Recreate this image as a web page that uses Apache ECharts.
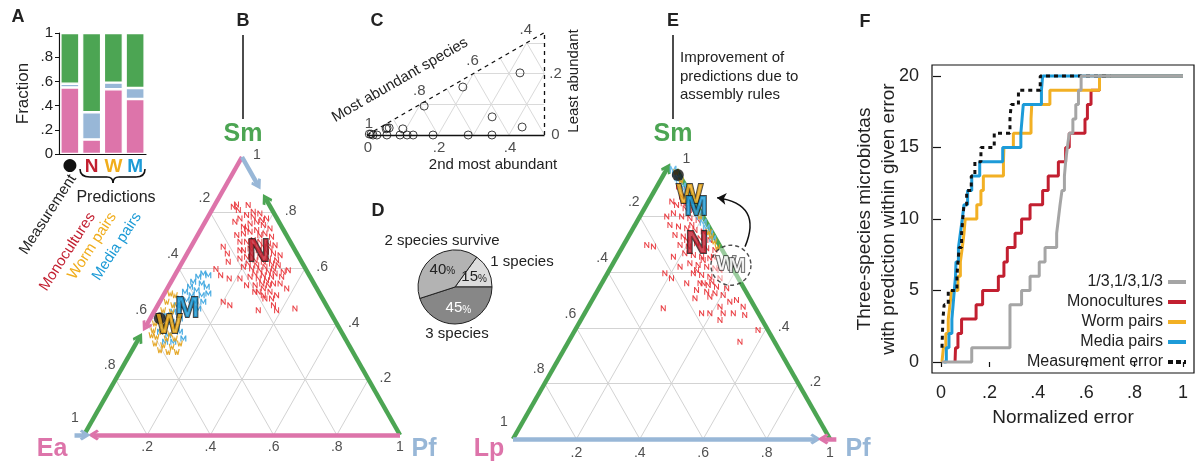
<!DOCTYPE html>
<html><head><meta charset="utf-8">
<script src="https://cdn.jsdelivr.net/npm/echarts@6/dist/echarts.min.js"></script>
<style>html,body{margin:0;padding:0;background:#fff}#c{width:1198px;height:463px}</style>
</head><body><div id="c"></div>
<script>
// ================= DATA =================
// Panel A: fractions (Ea, Pf, Sm)
const barCategories = ['Measurement', 'Monocultures', 'Worm pairs', 'Media pairs'];
const barEa = [0.55, 0.12, 0.535, 0.455];
const barPf = [0.03, 0.225, 0.055, 0.09];
const barSm = [0.42, 0.655, 0.41, 0.455];
const fractionTicks = [0, 0.2, 0.4, 0.6, 0.8, 1];
const ternTicks = [0.2, 0.4, 0.6, 0.8];

// Panel B clouds: [Pf, Sm] (Ea = 1 - Pf - Sm)
const bCloudN = [[0.062,0.821],[0.084,0.809],[0.106,0.827],[0.068,0.829],[0.102,0.677],[0.127,0.653],[0.145,0.623],[0.119,0.597],[0.145,0.575],[0.178,0.563],[0.201,0.479],[0.228,0.467],[0.327,0.449],[0.245,0.539],[0.283,0.515],[0.316,0.503],[0.366,0.467],[0.385,0.449],[0.44,0.455],[0.378,0.527],[0.337,0.587],[0.35,0.593],[0.348,0.545],[0.212,0.563],
[0.104,0.779],[0.119,0.791],[0.134,0.803],[0.158,0.797],[0.188,0.779],[0.13,0.749],[0.145,0.761],[0.163,0.767],[0.19,0.755],[0.217,0.743],[0.124,0.719],[0.142,0.725],[0.16,0.731],[0.178,0.737],[0.21,0.725],[0.237,0.713],[0.146,0.695],[0.167,0.695],[0.185,0.701],[0.209,0.695],[0.239,0.689],[0.263,0.683],[0.172,0.665],[0.19,0.671],[0.219,0.665],[0.248,0.659],[0.273,0.653],[0.297,0.647],[0.176,0.635],[0.194,0.641],[0.227,0.629],[0.256,0.623],[0.285,0.617],[0.309,0.611],[0.202,0.605],[0.231,0.599],[0.26,0.593],[0.29,0.587],[0.314,0.581],[0.241,0.569],[0.27,0.563],[0.299,0.557],[0.327,0.545],[0.272,0.539],[0.304,0.527],[0.331,0.515],[0.358,0.503],[0.327,0.491],
[0.143,0.785],[0.143,0.743],[0.197,0.719],[0.194,0.683],[0.229,0.677],[0.253,0.671],[0.207,0.647],[0.236,0.641],[0.266,0.635],[0.295,0.629],[0.211,0.617],[0.241,0.611],[0.27,0.605],[0.3,0.599],[0.25,0.581],[0.28,0.575],[0.309,0.569],[0.29,0.545],[0.314,0.539],[0.294,0.515],[0.348,0.491],[0.341,0.569],[0.094,0.767],[0.176,0.773],[0.161,0.665]];
const bCloudM = [[0.087,0.581],[0.106,0.575],[0.077,0.569],[0.07,0.551],[0.1,0.545],[0.122,0.533],[0.069,0.533],[0.096,0.521],[0.062,0.515],[0.089,0.503],[0.121,0.503],[0.139,0.509],[0.058,0.491],[0.082,0.485],[0.112,0.479],[0.06,0.467],[0.087,0.455],[0.061,0.443],[0.046,0.431],[0.094,0.419],[0.074,0.407],[0.056,0.389],[0.102,0.383],[0.055,0.371],[0.087,0.359],[0.118,0.371],[0.115,0.335],[0.141,0.347],[0.089,0.335],[0.138,0.479],[0.134,0.455]];
const bCloudW = [[0.018,0.509],[0.036,0.503],[0.022,0.479],[0.049,0.467],[0.026,0.449],[0.056,0.443],[0.023,0.425],[0.057,0.419],[0.024,0.401],[0.059,0.395],[0.088,0.389],[0.031,0.377],[0.06,0.371],[0.09,0.365],[0.053,0.353],[0.088,0.347],[0.114,0.347],[0.06,0.329],[0.089,0.323],[0.119,0.317],[0.088,0.305],[0.117,0.299],[0.139,0.329],[0.034,0.359],[0.144,0.299]];

// Panel C: [2nd most abundant, least abundant]
const cPoints = [[0.005,0.003],[0.01,0.003],[0.017,0],[0.028,0],[0.045,0.023],[0.051,0.023],[0.044,0.02],[0.056,0],[0.091,0.02],[0.093,0],[0.113,0],[0.13,0],[0.186,0],[0.285,0],[0.352,0],[0.323,0.059],[0.424,0.026],[0.33,0.202],[0.192,0.156],[0.114,0.094]];
const cBottomTicks = [0, 0.2, 0.4];
const cMostTicks = [1, 0.8, 0.6, 0.4];
const cLeastTicks = [0, 0.2];

// Panel D
const pieNames = ['1 species', '3 species', '2 species survive'];
const pieShares = [15, 45, 40];

// Panel E clouds: [Pf, Sm] (Lp = 1 - Pf - Sm)
const eCloudN = [[0.074,0.854],[0.085,0.80],[0.073,0.698],[0.097,0.692],[0.181,0.596],[0.211,0.578],[0.239,0.47],[0.369,0.452],[0.395,0.452],[0.415,0.476],[0.437,0.494],[0.455,0.5],[0.488,0.476],[0.508,0.446],[0.469,0.452],[0.437,0.452],[0.577,0.392],[0.541,0.35],[0.321,0.506],[0.365,0.512],[0.439,0.428],[0.32,0.56],
[0.068,0.908],[0.1,0.896],[0.096,0.872],[0.128,0.86],[0.095,0.842],[0.128,0.83],[0.157,0.824],[0.1,0.812],[0.132,0.8],[0.161,0.794],[0.19,0.788],[0.11,0.77],[0.14,0.764],[0.169,0.758],[0.198,0.752],[0.227,0.746],[0.144,0.734],[0.173,0.728],[0.229,0.722],[0.263,0.716],[0.178,0.698],[0.207,0.692],[0.268,0.686],[0.297,0.68],[0.208,0.668],[0.238,0.662],[0.267,0.656],[0.296,0.65],[0.242,0.632],[0.271,0.626],[0.301,0.62],[0.33,0.614],[0.271,0.596],[0.3,0.59],[0.329,0.584],[0.364,0.578],[0.31,0.56],[0.339,0.554],[0.368,0.548],[0.403,0.542],[0.346,0.53],[0.375,0.524],[0.404,0.518],[0.311,0.536],[0.268,0.56],[0.217,0.62],[0.178,0.656],[0.304,0.656],[0.113,0.848],[0.227,0.704],[0.278,0.644],[0.349,0.608],[0.275,0.608],[0.19,0.716],[0.179,0.77],[0.344,0.566]];
const eCloudM = [[0.02,0.97],[0.035,0.955],[0.05,0.94],[0.06,0.93],[0.08,0.91],[0.09,0.9],[0.11,0.88],[0.13,0.86],[0.14,0.85],[0.16,0.83],[0.18,0.81],[0.19,0.8],[0.21,0.78],[0.23,0.76],[0.25,0.74],[0.27,0.72]];
const eCloudW = [[0.035,0.96],[0.065,0.93],[0.17,0.82],[0.19,0.8],[0.245,0.745],[0.26,0.73],[0.28,0.71],[0.3,0.69]];
const eMeasured = [0.045, 0.95];
const eMeanN = [0.23, 0.70];
const eMeanW = [0.12, 0.875];
const eMeanM = [0.16, 0.835];
const eNoRules = [0.375, 0.625];
const eArrowFrom = [0.386, 0.692];
const eArrowTo = [0.21, 0.868];

// Panel F: [normalized error, count]
const fNames = ['1/3,1/3,1/3', 'Monocultures', 'Worm pairs', 'Media pairs', 'Measurement error'];
const fGray = [[0.003,0],[0.127,1],[0.285,4],[0.333,5],[0.368,6],[0.406,7],[0.43,8],[0.478,9],[0.485,10],[0.492,11],[0.5,12],[0.51,13],[0.515,14],[0.522,15],[0.53,16],[0.545,17],[0.557,18],[0.568,19],[0.579,20],[1,20]];
const fRed = [[0.058,0],[0.06,1],[0.07,2],[0.085,3],[0.145,4],[0.172,5],[0.237,6],[0.26,7],[0.274,8],[0.306,9],[0.333,10],[0.368,11],[0.42,12],[0.443,13],[0.485,14],[0.515,15],[0.53,16],[0.595,17],[0.605,18],[0.62,19],[0.655,20],[1,20]];
const fOrange = [[0.004,0],[0.01,1],[0.02,2],[0.03,3],[0.037,4],[0.044,5],[0.07,6],[0.08,7],[0.088,8],[0.095,9],[0.1,10],[0.148,11],[0.165,12],[0.175,13],[0.258,14],[0.26,15],[0.299,16],[0.372,17],[0.375,18],[0.45,19],[0.655,20],[1,20]];
const fBlue = [[0.012,0],[0.022,1],[0.033,2],[0.045,3],[0.05,4],[0.055,5],[0.06,6],[0.062,7],[0.072,8],[0.08,9],[0.088,10],[0.095,11],[0.11,12],[0.127,13],[0.16,14],[0.255,15],[0.33,16],[0.335,17],[0.34,18],[0.415,19],[0.42,20],[1,20]];
const fBlack = [[0.004,1],[0.008,3],[0.013,4],[0.03,5],[0.066,6],[0.07,7],[0.075,8],[0.085,9],[0.09,10],[0.095,11],[0.106,12],[0.125,13],[0.14,14],[0.165,15],[0.22,16],[0.285,17],[0.29,18],[0.32,19],[0.41,20],[0.7,20]];
const fXTicks = [0, 0.2, 0.4, 0.6, 0.8, 1];
const fYTicks = [0, 5, 10, 15, 20];

// ================= STYLE / HELPERS =================
const FONT = '"Liberation Sans", Arial, Helvetica, sans-serif';
const C_EA = '#dd74aa', C_PF = '#98b7d7', C_SM = '#4ca553';
const C_RED = '#c21f30', C_ORANGE = '#f0ad1c', C_BLUE = '#1b9ad6', C_INK = '#222';
const CHEVRON = 'path://M5 0L10 7 8.2 8.6 5 4.4 1.8 8.6 0 7Z';
const P_N = 'path://M0 10V0h2l6 7V0h2v10H8L2 3v7z';
const P_M = 'path://M0 10V0h2.2L5 5.5 7.8 0H10v10H8V4L5 9 2 4v6z';
const P_W = 'path://M0 0h2l1.3 6.2L5 1.5l1.7 4.7L8 0h2L7.8 10H6L5 6.6 4 10H2.2z';
const ICON_SOLID = 'path://M0 0h18v4H0z';
const ICON_DASH = 'path://M0 0h5v4H0zM8 0h5v4H8zM16 0h2v4h-2z';
const T = (pf, sm) => [pf + sm / 2, sm];
const CXY = (second, least) => [second + least / 2, least];
const fmt = v => (Math.abs(v - 1) < 1e-9 ? '1' : Math.abs(v) < 1e-9 ? '0' : v.toFixed(1).replace(/^0/, ''));
const onGrid = g => ({ xAxisIndex: g, yAxisIndex: g });

function segSeries(g, segs, color, width, head, dash, z, extra) {
  return Object.assign({
    type: 'lines', coordinateSystem: 'cartesian2d', polyline: false, silent: true, clip: false, z: z || 2,
    data: segs.map(s => ({ coords: s })),
    lineStyle: { color: color, width: width, type: dash || 'solid', opacity: 1, curveness: 0 },
    symbol: head ? ['none', head] : ['none', 'none'],
    symbolSize: head === 'arrow' ? 9 : [15, 11],
    animation: false
  }, onGrid(g), extra || {});
}
function cloudSeries(g, pts, path, color, size, z) {
  return Object.assign({
    type: 'scatter', silent: true, clip: false, symbol: path, symbolSize: size,
    itemStyle: { color: color, opacity: 0.92 }, z: z || 3,
    data: pts.map(p => T(p[0], p[1]))
  }, onGrid(g));
}
function labelSeries(g, items, size, z, extraLabel) {
  return Object.assign({
    type: 'scatter', silent: true, clip: false, symbol: 'circle', symbolSize: 1, itemStyle: { color: 'rgba(0,0,0,0)' }, z: z || 5,
    label: Object.assign({ show: true, position: 'inside', formatter: '{b}', fontSize: size, color: C_INK, fontFamily: FONT }, extraLabel || {}),
    data: items
  }, onGrid(g));
}
function ternGridSegs() {
  const s = [];
  ternTicks.forEach(k => {
    s.push([T(0, k), T(1 - k, k)]);
    s.push([T(k, 0), T(k, 1 - k)]);
    s.push([T(1 - k, 0), T(0, 1 - k)]);
  });
  return s;
}
function ternTickItems(bottomDy, rightTicks) {
  const it = [];
  ternTicks.concat([1]).forEach(k => it.push({ value: T(k, 0), name: fmt(k), label: { offset: [0, bottomDy] } }));
  it.push({ value: T(0, 0), name: '1', label: { offset: [-9, -17] } });
  ternTicks.forEach(k => it.push({ value: T(0, k), name: fmt(1 - k), label: { offset: [-6, -14] } }));
  rightTicks.forEach(k => it.push({ value: T(1 - k, k), name: fmt(k), label: { offset: [17, -1] } }));
  it.push({ value: T(0, 1), name: '1', label: { offset: [15, -2] } });
  return it;
}
function bigLetter(pt, text, fill, size, off) {
  return { value: T(pt[0], pt[1]), name: text, label: { color: fill, fontSize: size, offset: off || [0, 0] } };
}
function gText(x, y, text, o) {
  o = o || {};
  return { type: 'text', x: x, y: y, rotation: o.rot || 0, silent: true, z: 100,
    style: { text: text, fill: o.color || C_INK, font: (o.weight || 'normal') + ' ' + (o.size || 15) + 'px ' + FONT,
      align: o.align || 'center', verticalAlign: o.va || 'middle' } };
}
function gCurve(x1, y1, cx, cy, x2, y2) {
  return { type: 'bezierCurve', silent: true, z: 100, shape: { x1: x1, y1: y1, x2: x2, y2: y2, cpx1: cx, cpy1: cy },
    style: { stroke: '#111', lineWidth: 1.6, fill: null } };
}
function gLine(x1, y1, x2, y2, w) {
  return { type: 'line', silent: true, z: 100, shape: { x1: x1, y1: y1, x2: x2, y2: y2 }, style: { stroke: '#111', lineWidth: w || 1.6 } };
}

// ================= SERIES =================
const series = [];
// ---- A ----
[[barEa, C_EA], [barPf, C_PF], [barSm, C_SM]].forEach(([arr, col]) => {
  series.push({ type: 'bar', stack: 'a', xAxisIndex: 0, yAxisIndex: 0, barWidth: 19, data: arr,
    itemStyle: { color: col, borderColor: '#fff', borderWidth: 1.2 }, silent: true });
});
// ---- B (grid 1) ----
series.push(segSeries(1, ternGridSegs(), '#d3d3d3', 1, null, null, 1));
series.push(segSeries(1, [[T(0, 0), T(0, 0.35)], [T(1, 0), T(0.15, 0.85)]], C_SM, 4.5, CHEVRON));
series.push(segSeries(1, [[T(0, 1), T(0, 0.39)], [T(1, 0), T(0.03, 0)]], C_EA, 4.5, CHEVRON));
series.push(segSeries(1, [[T(0, 1), T(0.1, 0.9)], [T(-0.03, 0), T(0.004, 0)]], C_PF, 4.5, CHEVRON));
series.push(cloudSeries(1, bCloudN, P_N, '#e8343a', [5, 6]));
series.push(cloudSeries(1, bCloudM, P_M, '#3ea6e0', [6, 6]));
series.push(cloudSeries(1, bCloudW, P_W, '#e3a21a', [6, 6]));
series.push(labelSeries(1, ternTickItems(12, ternTicks), 14, 4));
series.push(Object.assign({ type: 'scatter', silent: true, clip: false, symbol: 'circle', symbolSize: 12,
  itemStyle: { color: '#111' }, z: 5, data: [T(barPf[0], barSm[0])] }, onGrid(1)));
series.push(labelSeries(1, [
  bigLetter([barPf[1], barSm[1]], 'N', C_RED, 31),
  bigLetter([barPf[3], barSm[3]], 'M', C_BLUE, 29, [3, 0]),
  bigLetter([barPf[2], barSm[2]], 'W', C_ORANGE, 27, [3, 5])
], 28, 6, { fontWeight: 'bold', textBorderColor: '#151515', textBorderWidth: 1.8 }));
// ---- C (grid 2) ----
const cGray = [];
[0.1, 0.2, 0.3].forEach(l => cGray.push([CXY(l, l), [0.5, l]]));
[0.1, 0.2, 0.3, 0.4].forEach(k => cGray.push([CXY(k, 0), CXY(k, Math.min(k, 1 - 2 * k))]));
[0.9, 0.8, 0.7, 0.6, 0.5].forEach(m => cGray.push([CXY(1 - m, 0), CXY((1 - m) / 2, (1 - m) / 2)]));
cGray.push([[0.5, 0.2], CXY(0.3, 0.3)]);
series.push(segSeries(2, cGray, '#dadada', 1, null, null, 1));
series.push(segSeries(2, [[[0, 0], [0.5, 0]]], '#111', 1.3, null, null, 2));
series.push(segSeries(2, [[[0, 0], [0.5, 1 / 3]], [[0.5, 0], [0.5, 1 / 3]]], '#111', 1.3, null, [4, 4], 2));
series.push(Object.assign({ type: 'scatter', silent: true, clip: false, symbol: 'circle', symbolSize: 8,
  itemStyle: { color: 'rgba(255,255,255,0)', borderColor: '#111', borderWidth: 1 }, z: 4,
  data: cPoints.map(p => CXY(p[0], p[1])) }, onGrid(2)));
const cLabels = [];
cBottomTicks.forEach(k => cLabels.push({ value: CXY(k, 0), name: fmt(k), label: { offset: [1, 13] } }));
cMostTicks.forEach(m => cLabels.push({ value: CXY((1 - m) / 2, (1 - m) / 2), name: fmt(m), label: { offset: m === 1 ? [2, -11] : [-1, -13] } }));
cLeastTicks.forEach(l => cLabels.push({ value: [0.5, l], name: fmt(l), label: { offset: [11, 0] } }));
series.push(labelSeries(2, cLabels, 15, 5));
// ---- D ----
series.push({ type: 'pie', center: [455, 287], radius: 37, startAngle: 54, clockwise: true, silent: true,
  label: { show: true, position: 'inner', formatter: '{v|{c}}{p|%}',
    rich: { v: { fontSize: 15, fontFamily: FONT, color: C_INK }, p: { fontSize: 10, fontFamily: FONT, color: C_INK, padding: [4, 0, 0, 0] } } },
  labelLine: { show: false },
  itemStyle: { borderColor: '#222', borderWidth: 1 },
  data: [
    { name: pieNames[0], value: pieShares[0], itemStyle: { color: '#dcdcdc' } },
    { name: pieNames[1], value: pieShares[1], itemStyle: { color: '#878787' },
      label: { rich: { v: { color: '#fff', fontSize: 15 }, p: { color: '#fff', fontSize: 10, padding: [4, 0, 0, 0] } } } },
    { name: pieNames[2], value: pieShares[2], itemStyle: { color: '#b3b3b3' } }
  ] });
// ---- E (grid 3) ----
series.push(segSeries(3, ternGridSegs(), '#d3d3d3', 1, null, null, 1));
series.push(segSeries(3, [[T(1, 0), T(0.03, 0.97)]], C_SM, 4.5, null));
series.push(segSeries(3, [[T(0, 0), T(0, 0.975)]], C_SM, 4.5, CHEVRON));
series.push(segSeries(3, [[T(0, 0), T(0.955, 0)]], C_PF, 4.5, CHEVRON));
series.push(segSeries(3, [[T(1.02, 0), T(0.978, 0)]], C_EA, 4.5, CHEVRON));
series.push(cloudSeries(3, eCloudN, P_N, '#e8343a', [5, 6]));
series.push(cloudSeries(3, eCloudM, P_M, '#63b8e6', [7, 7], 4));
series.push(cloudSeries(3, eCloudW, P_W, '#e3a21a', [6, 6], 4));
series.push(Object.assign({ type: 'scatter', silent: true, clip: false, symbol: 'circle', symbolSize: 40,
  itemStyle: { color: 'rgba(255,255,255,0.55)', borderColor: '#222', borderWidth: 1.4, borderType: [4, 3] }, z: 5,
  data: [T(eNoRules[0], eNoRules[1])] }, onGrid(3)));
series.push(segSeries(3, [[T(eArrowFrom[0], eArrowFrom[1]), T(eArrowTo[0], eArrowTo[1])]], '#111', 1.5, 'arrow', null, 6,
  { lineStyle: { color: '#111', width: 1.5, opacity: 1, curveness: -0.65 } }));
series.push(labelSeries(3, ternTickItems(14, [0.2, 0.4]), 14, 4));
series.push(Object.assign({ type: 'scatter', silent: true, clip: false, symbol: 'circle', symbolSize: 12,
  itemStyle: { color: '#111' }, z: 5, data: [T(eMeasured[0], eMeasured[1])] }, onGrid(3)));
series.push(labelSeries(3, [
  bigLetter(eMeanN, 'N', C_RED, 31),
  bigLetter(eMeanW, 'W', C_ORANGE, 28),
  bigLetter(eMeanM, 'M', C_BLUE, 28)
], 28, 7, { fontWeight: 'bold', textBorderColor: '#151515', textBorderWidth: 1.8 }));
series.push(labelSeries(3, [
  { value: T(eNoRules[0], eNoRules[1]), name: 'W', label: { offset: [-5, -1] } },
  { value: T(eNoRules[0], eNoRules[1]), name: 'M', label: { offset: [6, 1] } }
], 21, 7, { fontWeight: 'bold', color: '#fff', textBorderColor: '#151515', textBorderWidth: 1.5 }));
// ---- F (grid 4) ----
const fLine = (name, data, color, dash, z) => ({ type: 'line', name: name, xAxisIndex: 4, yAxisIndex: 4, step: 'end',
  data: data, symbol: 'none', showSymbol: false, z: z, silent: true,
  lineStyle: { color: color, width: 3, type: dash || 'solid' }, itemStyle: { color: color } });
series.push(fLine(fNames[1], fRed, '#c21f30', null, 3));
series.push(fLine(fNames[2], fOrange, '#f2b024', null, 3));
series.push(fLine(fNames[3], fBlue, '#1d9bd8', null, 4));
series.push(fLine(fNames[4], fBlack, '#111', [4, 4], 5));
series.push(fLine(fNames[0], fGray, '#a5a5a5', null, 6));

// ================= AXES =================
const hiddenVal = (g, min, max) => ({ gridIndex: g, type: 'value', min: min, max: max, show: false });
const axisFontF = { fontSize: 18, color: C_INK, fontFamily: FONT };
const option = {
  animation: false,
  backgroundColor: '#fff',
  textStyle: { fontFamily: FONT },
  grid: [
    { left: 59, top: 33, width: 87, height: 121 },
    { left: 84, top: 157, width: 316, height: 278 },
    { left: 367, top: 32.5, width: 177.5, height: 102.5 },
    { left: 513, top: 161, width: 317, height: 278 },
    { left: 932, top: 65, width: 262, height: 308, show: true, borderColor: '#111', borderWidth: 1.2, backgroundColor: 'transparent' }
  ],
  xAxis: [
    { gridIndex: 0, type: 'category', data: barCategories,
      axisLine: { lineStyle: { color: '#111', width: 1.2 } }, axisTick: { show: false },
      axisLabel: { interval: 0, margin: 3,
        formatter: (v, i) => ['{dot|●}', '{n|N}', '{w|W}', '{m|M}'][i],
        rich: { dot: { fontSize: 17, color: '#111', fontFamily: 'DejaVu Sans' },
          n: { fontSize: 19, fontWeight: 'bold', color: C_RED, fontFamily: FONT },
          w: { fontSize: 19, fontWeight: 'bold', color: C_ORANGE, fontFamily: FONT },
          m: { fontSize: 19, fontWeight: 'bold', color: C_BLUE, fontFamily: FONT } } } },
    hiddenVal(1, 0, 1),
    hiddenVal(2, 0, 0.5),
    hiddenVal(3, 0, 1),
    { gridIndex: 4, type: 'value', min: -0.0372, max: 1.0455, offset: 4,
      axisLine: { show: false }, splitLine: { show: false },
      axisTick: { show: true, customValues: fXTicks, length: 5, lineStyle: { color: '#111', width: 1.2 } },
      axisLabel: { customValues: fXTicks, formatter: v => fmt(v), margin: 7, ...axisFontF },
      name: 'Normalized error', nameLocation: 'middle', nameGap: 31, nameMoveOverlap: false,
      nameTextStyle: { fontSize: 19, color: C_INK, fontFamily: FONT } }
  ],
  yAxis: [
    { gridIndex: 0, type: 'value', min: 0, max: 1, interval: 0.2,
      axisLine: { show: true, lineStyle: { color: '#111', width: 1.2 } },
      axisTick: { show: true, length: 4, lineStyle: { color: '#111' } },
      splitLine: { show: false },
      axisLabel: { formatter: v => fmt(v), fontSize: 15, color: C_INK, fontFamily: FONT, margin: 6 },
      name: 'Fraction', nameLocation: 'middle', nameGap: 27, nameRotate: 90,
      nameTextStyle: { fontSize: 17, color: C_INK, fontFamily: FONT } },
    hiddenVal(1, 0, 1),
    hiddenVal(2, 0, 1 / 3),
    hiddenVal(3, 0, 1),
    { gridIndex: 4, type: 'value', min: -0.77, max: 20.77,
      axisLine: { show: false }, splitLine: { show: false },
      axisTick: { show: true, customValues: fYTicks, length: 8, lineStyle: { color: '#111', width: 1.2 } },
      axisLabel: { customValues: fYTicks, margin: 13, ...axisFontF },
      name: 'Three-species microbiotas\nwith prediction within given error', nameLocation: 'middle', nameGap: 31, nameRotate: 90,
      nameMoveOverlap: false,
      nameTextStyle: { fontSize: 19, lineHeight: 24, color: C_INK, fontFamily: FONT } }
  ],
  legend: {
    data: fNames.map((n, i) => ({ name: n, icon: i === 4 ? ICON_DASH : ICON_SOLID })),
    orient: 'vertical', align: 'right', right: 7, top: 269,
    itemWidth: 18, itemHeight: 4, itemGap: 4,
    textStyle: { fontSize: 16, color: C_INK, fontFamily: FONT, lineHeight: 16 },
    selectedMode: false
  },
  series: series,
  graphic: [
    gText(18, 17, 'A', { weight: 'bold', size: 18 }),
    gText(243, 21, 'B', { weight: 'bold', size: 18 }),
    gText(377, 21, 'C', { weight: 'bold', size: 18 }),
    gText(378, 211, 'D', { weight: 'bold', size: 18 }),
    gText(673, 21, 'E', { weight: 'bold', size: 18 }),
    gText(865, 22, 'F', { weight: 'bold', size: 18 }),
    gLine(243, 35, 243, 119, 1.5),
    gLine(673, 35, 673, 119, 1.5),
    gText(680, 58, 'Improvement of', { align: 'left', size: 15 }),
    gText(680, 77, 'predictions due to', { align: 'left', size: 15 }),
    gText(680, 95, 'assembly rules', { align: 'left', size: 15 }),
    gText(243, 134, 'Sm', { weight: 'bold', size: 25, color: C_SM }),
    gText(52, 449, 'Ea', { weight: 'bold', size: 25, color: C_EA }),
    gText(424, 449, 'Pf', { weight: 'bold', size: 25, color: C_PF }),
    gText(673, 134, 'Sm', { weight: 'bold', size: 25, color: C_SM }),
    gText(489, 449, 'Lp', { weight: 'bold', size: 25, color: C_EA }),
    gText(858, 449, 'Pf', { weight: 'bold', size: 25, color: C_PF }),
    // panel A annotations: brace
    gCurve(80, 169, 80, 177, 90, 177),
    gLine(90, 177, 107, 177),
    gCurve(107, 177, 113, 177, 113, 183),
    gCurve(113, 183, 113, 177, 119, 177),
    gLine(119, 177, 136, 177),
    gCurve(136, 177, 145, 177, 145, 169),
    gText(116, 198, 'Predictions', { size: 16 }),
    gText(73, 176, 'Measurement', { align: 'right', size: 15, rot: 57 * Math.PI / 180 }),
    gText(92, 214, 'Monocultures', { align: 'right', size: 15, rot: 57 * Math.PI / 180, color: C_RED }),
    gText(113, 214, 'Worm pairs', { align: 'right', size: 15, rot: 57 * Math.PI / 180, color: C_ORANGE }),
    gText(138, 214, 'Media pairs', { align: 'right', size: 15, rot: 57 * Math.PI / 180, color: C_BLUE }),
    // panel C titles
    gText(400, 80, 'Most abundant species', { size: 15, rot: 30 * Math.PI / 180 }),
    gText(493, 165, '2nd most abundant', { size: 15 }),
    gText(574, 81, 'Least abundant', { size: 15, rot: Math.PI / 2 }),
    // panel D labels
    gText(442, 241, '2 species survive', { size: 15 }),
    gText(522, 262, '1 species', { size: 15 }),
    gText(457, 334, '3 species', { size: 15 })
  ]
};
const chart = echarts.init(document.getElementById('c'), null, { renderer: 'canvas' });
chart.setOption(option);
</script></body></html>
